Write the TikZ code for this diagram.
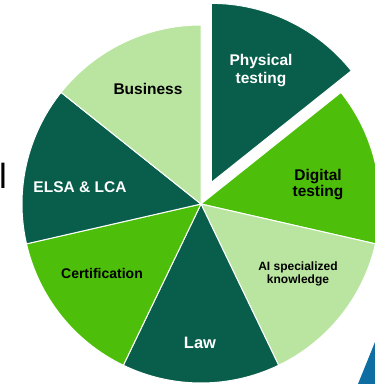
\documentclass[tikz,border=0pt]{standalone}
\usepackage{fontspec}
\setmainfont{Liberation Sans}
\usetikzlibrary{calc}
\definecolor{dkgreen}{RGB}{8,94,74}
\definecolor{brgreen}{RGB}{77,191,10}
\definecolor{ltgreen}{RGB}{185,229,160}
\definecolor{blueshape}{RGB}{14,109,163}
\begin{document}
\begin{tikzpicture}[x=1pt,y=1pt,
  slice/.style={draw=white, line width=1pt, line join=round},
  lbl/.style={align=center, font=\bfseries\fontsize{15.5}{18}\selectfont, inner sep=0pt},
  wlbl/.style={lbl, text=white},
  blbl/.style={lbl, text=black}]
\useasboundingbox (0,0) rectangle (375,384);
\coordinate (C) at (201,180);
\coordinate (CX) at ($(C)+(64.29:24)$);
\def\R{179}
% exploded slice: Physical testing
\fill[dkgreen, slice] (CX) -- ++(90:\R) arc[start angle=90, end angle=38.57, radius=\R] -- cycle;
% Digital testing
\fill[brgreen, slice] (C) -- ++(38.57:\R) arc[start angle=38.57, end angle=-12.86, radius=\R] -- cycle;
% AI specialized knowledge
\fill[ltgreen, slice] (C) -- ++(-12.86:\R) arc[start angle=-12.86, end angle=-64.29, radius=\R] -- cycle;
% Law
\fill[dkgreen, slice] (C) -- ++(-64.29:\R) arc[start angle=-64.29, end angle=-115.71, radius=\R] -- cycle;
% Certification
\fill[brgreen, slice] (C) -- ++(-115.71:\R) arc[start angle=-115.71, end angle=-167.14, radius=\R] -- cycle;
% ELSA & LCA
\fill[dkgreen, slice] (C) -- ++(-167.14:\R) arc[start angle=-167.14, end angle=-218.57, radius=\R] -- cycle;
% Business
\fill[ltgreen, slice] (C) -- ++(141.43:\R) arc[start angle=141.43, end angle=90, radius=\R] -- cycle;
% blue shape at bottom right
\fill[blueshape] (375,42) -- (358,0) -- (375,0) -- cycle;
% labels
\node[wlbl] (phys) at (261,313) {Physical\\testing};
\node[blbl, font=\bfseries\fontsize{15.5}{16}\selectfont] (dig) at (318,199) {Digital\\testing};
\node[blbl, font=\bfseries\fontsize{12}{13}\selectfont] (ai) at (298,110.5) {AI specialized\\knowledge};
\node[wlbl, font=\bfseries\fontsize{16.5}{18}\selectfont] (law) at (200,41) {Law};
\node[blbl, font=\bfseries\fontsize{14}{16}\selectfont] (cert) at (102,111) {Certification};
\node[wlbl] (elsa) at (80,197) {ELSA \& LCA};
\node[blbl] (bus) at (148,295) {Business};
\node[inner sep=0pt, font=\fontsize{35}{35}\selectfont] (frag) at (3,208.5) {l};
\end{tikzpicture}
\end{document}
